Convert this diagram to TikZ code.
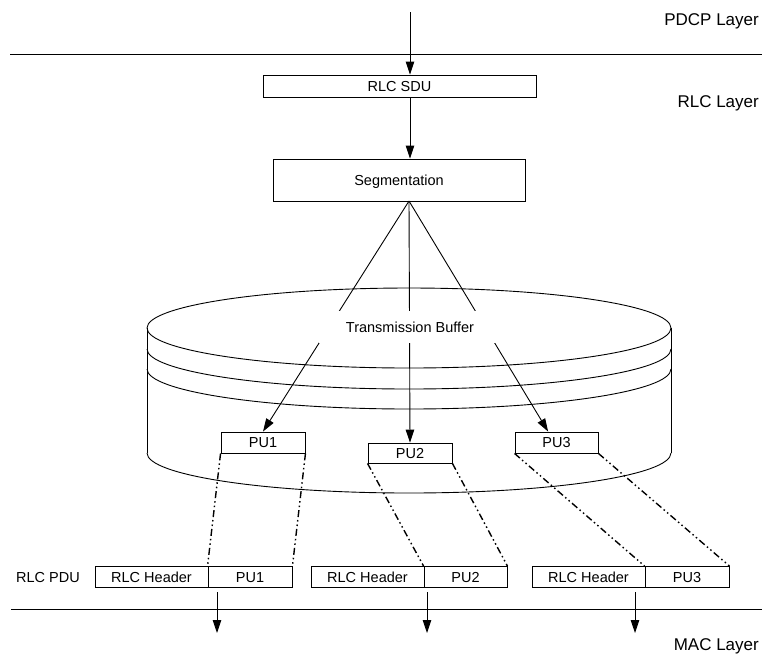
\documentclass[tikz,border=0pt]{standalone}
\usepackage{fontspec}
\setmainfont{Liberation Sans}
\usetikzlibrary{arrows.meta,calc}
\begin{document}
\begin{tikzpicture}[x=1pt,y=-1pt,
  every node/.style={font=\fontsize{14.5}{16}\selectfont,text height=10.4pt,text depth=0pt},
  line/.style={line width=0.9pt},
  box/.style={draw,line width=0.9pt,inner sep=0pt,minimum height=21pt},
  arr/.style={line width=0.9pt,-{Triangle[length=13pt,width=8.5pt]}},
  splitline/.style={line width=1.4pt,dash pattern=on 7pt off 3pt on 1.5pt off 3pt on 1.5pt off 3pt},
  layer/.style={font=\fontsize{17}{20}\selectfont,anchor=base east,inner sep=0pt,text height=,text depth=}]
\useasboundingbox (0,0) rectangle (762,657);

% layer boundaries and labels
\coordinate (upA) at (10,54);
\coordinate (upB) at (762,54);
\coordinate (loA) at (11,609);
\coordinate (loB) at (762,609);
\draw[line] (upA) -- (upB);
\draw[line] (loA) -- (loB);
\node[layer] (pdcp) at (759,25) {PDCP Layer};
\node[layer] (rlc) at (759,107) {RLC Layer};
\node[layer] (mac) at (759,650) {MAC Layer};

% SDU and segmentation
\node[box,minimum width=273pt,minimum height=22pt] (sdu) at (399.5,86) {RLC SDU};
\node[box,minimum width=252pt,minimum height=42pt] (seg) at (399,180) {Segmentation};
\coordinate (in) at (410,12);
\coordinate (apex) at (409,201);
\draw[arr] (in) -- (in |- sdu.north);
\draw[arr] (sdu.south -| in) -- (seg.north -| in);

% transmission buffer drum
\draw[line] (409,328) ellipse [x radius=262, y radius=40];
\draw[line] (147,349) arc[start angle=180,end angle=0,x radius=262,y radius=40];
\draw[line] (147,369) arc[start angle=180,end angle=0,x radius=262,y radius=40];
\draw[line] (147,328) -- (147,453);
\draw[line] (671,328) -- (671,453);
\draw[line] (147,453) arc[start angle=180,end angle=0,x radius=262,y radius=40];

% payload units in the buffer
\node[box,minimum width=84pt] (pu1t) at (263,442.5) {PU1};
\node[box,minimum width=84pt,minimum height=20pt] (pu2t) at (410,453) {PU2};
\node[box,minimum width=83pt] (pu3t) at (556.5,442.5) {PU3};

\draw[arr] (apex) -- (pu1t.north);
\draw[arr] (apex) -- (pu2t.north);
\draw[arr] (apex) -- ($(pu3t.north west)!0.4!(pu3t.north east)$);
\node[fill=white,inner sep=0pt,minimum width=182pt,minimum height=32pt] (tb) at (410,327) {Transmission Buffer};

% RLC PDUs
\node (pdu) at (48,577) {RLC PDU};
\node[box,minimum width=113pt] (h1) at (151.5,577) {RLC Header};
\node[box,minimum width=84pt] (p1) at (250,577) {PU1};
\node[box,minimum width=113pt] (h2) at (367.5,577) {RLC Header};
\node[box,minimum width=83pt] (p2) at (465.5,577) {PU2};
\node[box,minimum width=113pt] (h3) at (588.5,577) {RLC Header};
\node[box,minimum width=84pt] (p3) at (687,577) {PU3};

% mapping of each unit into its PDU
\draw[splitline] (pu1t.south west) -- (p1.north west);
\draw[splitline] (pu1t.south east) -- (p1.north east);
\draw[splitline] (pu2t.south west) -- (p2.north west);
\draw[splitline] (pu2t.south east) -- (p2.north east);
\draw[splitline] (pu3t.south west) -- (p3.north west);
\draw[splitline] (pu3t.south east) -- (p3.north east);

% delivery to MAC
\coordinate (d1a) at (217,592); \coordinate (d1b) at (217,633);
\coordinate (d2a) at (427,592); \coordinate (d2b) at (427,633);
\coordinate (d3a) at (635,592); \coordinate (d3b) at (635,633);
\draw[arr] (d1a) -- (d1b);
\draw[arr] (d2a) -- (d2b);
\draw[arr] (d3a) -- (d3b);
\end{tikzpicture}
\end{document}
